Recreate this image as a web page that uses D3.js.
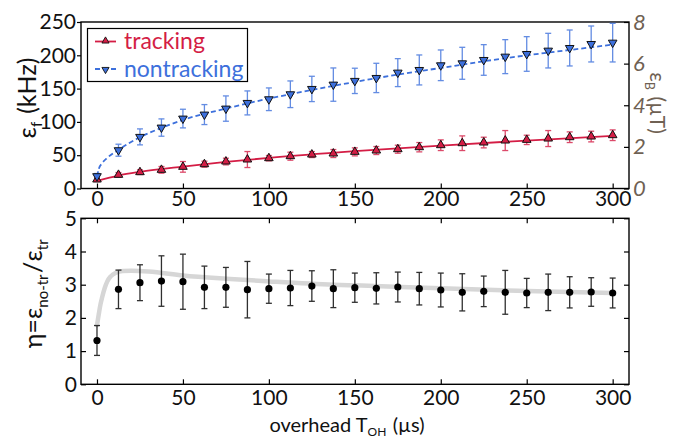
<!DOCTYPE html>
<html>
<head>
<meta charset="utf-8">
<script src="https://cdn.jsdelivr.net/npm/d3@7"></script>
<style>
  body { margin: 0; background: #fff; }
  svg { display: block; }
  text { font-family: Lato, "Open Sans", sans-serif; }
</style>
</head>
<body>
<svg id="chart" width="692" height="438"></svg>
<script>
// Overhead time T_OH (µs) of each measurement
const overheadUs = [0, 12.5, 25, 37.5, 50, 62.5, 75, 87.5, 100, 112.5, 125, 137.5, 150,
  162.5, 175, 187.5, 200, 212.5, 225, 237.5, 250, 262.5, 275, 287.5, 300];

// Frequency error ε_f (kHz), tracking
const trackingKHz = [13.5, 20.5, 24.5, 28, 32.5, 36.5, 40.5, 43.5, 45.5, 48.5, 51, 52.5, 55,
  57, 59, 62, 65, 68, 69, 72, 73, 75, 77, 78, 80];
const trackingErr = [3, 3.5, 3.5, 5, 8, 4.5, 5, 12, 4, 6, 4.5, 6, 6,
  6, 6, 7, 8, 11, 8, 15, 7, 12, 8, 8, 8];

// Frequency error ε_f (kHz), nontracking
const nontrackingKHz = [18.5, 57.5, 77.5, 91.5, 105, 111, 120, 128.5, 134, 141.5, 149.5, 156, 161.6,
  166, 174, 178, 185, 188, 193, 198, 202, 207, 211, 217, 219];
const nontrackingErr = [4, 9, 12, 13, 14, 15, 19, 18, 17, 20, 19, 25, 19,
  22, 21, 22.5, 23, 24, 23, 25.5, 26, 26, 27, 27, 29];

// Fitted curves for both modes: [T_OH, ε_f]
const trackingFit = [[0, 11.5], [12.5, 19.5], [25, 25], [50, 33], [75, 40], [100, 46],
  [150, 56], [200, 64.5], [250, 72], [300, 79]];
const nontrackingFit = [[0, 18], [1, 29], [3, 38], [6, 46], [12.5, 58], [25, 77], [37.5, 91],
  [50, 103], [75, 120], [100, 135], [125, 148], [150, 160], [175, 171], [200, 181],
  [225, 191], [250, 200], [275, 208], [300, 216]];

// Improvement ratio η = ε_no-tr / ε_tr
const ratioVal = [1.32, 2.86, 3.06, 3.11, 3.09, 2.92, 2.92, 2.85, 2.88, 2.9, 2.96, 2.88, 2.91,
  2.89, 2.93, 2.88, 2.84, 2.77, 2.8, 2.77, 2.75, 2.77, 2.77, 2.78, 2.75];
const ratioErr = [0.45, 0.58, 0.54, 0.76, 0.83, 0.64, 0.6, 0.85, 0.44, 0.53, 0.46, 0.57, 0.44,
  0.47, 0.45, 0.49, 0.51, 0.56, 0.46, 0.66, 0.44, 0.55, 0.47, 0.43, 0.45];
const ratioModel = [[0, 1.78], [1, 2.1], [2, 2.4], [3, 2.62], [4.5, 2.9], [6, 3.1], [8, 3.25],
  [11, 3.36], [15, 3.41], [20, 3.42], [30, 3.4], [50, 3.28], [75, 3.18], [100, 3.1],
  [137.5, 3.0], [150, 2.98], [200, 2.89], [250, 2.81], [300, 2.75]];

// Tick labels
const xTicks = [0, 50, 100, 150, 200, 250, 300];
const fTicks = [0, 50, 100, 150, 200, 250];
const bTicks = [0, 2, 4, 6, 8];
const etaTicks = [0, 1, 2, 3, 4, 5];

const RED = "#d41d45";
const BLUE = "#3d70dc";
const BROWN = "#6f6153";
const TICK_FONT = 21;

const svg = d3.select("#chart");
const L = 81, R = 629;
const top1 = 22, bot1 = 188.5;
const top2 = 218.3, bot2 = 384.3;

const x = d3.scaleLinear().domain([-9.3, 309.5]).range([L, R]);
const yF = d3.scaleLinear().domain([0, 250]).range([bot1, top1]);
const yB = d3.scaleLinear().domain([0, 8]).range([bot1, top1]);
const yEta = d3.scaleLinear().domain([0, 5]).range([bot2, top2]);
const intFmt = d3.format("d");

function styleAxis(g, color) {
  g.select(".domain").remove();
  g.selectAll(".tick line").attr("stroke", "#000").attr("stroke-width", 1.2);
  g.selectAll(".tick text").attr("fill", color || "#111").attr("font-size", TICK_FONT);
}

// ---------- top panel axes ----------
svg.append("g").attr("transform", `translate(${L},0)`)
  .call(d3.axisLeft(yF).tickValues(fTicks).tickFormat(intFmt).tickSize(4).tickPadding(1))
  .call(g => styleAxis(g));
svg.append("g").attr("transform", `translate(0,${bot1})`)
  .call(d3.axisBottom(x).tickValues(xTicks).tickFormat(intFmt).tickSize(-5).tickPadding(3))
  .call(g => styleAxis(g));
svg.append("g").attr("transform", `translate(${R},0)`)
  .call(d3.axisRight(yB).tickValues(bTicks).tickFormat(intFmt).tickSize(-5).tickPadding(4))
  .call(g => {
    styleAxis(g, BROWN);
    g.selectAll(".tick text").attr("font-style", "italic").attr("font-size", 22);
  });

// ---------- bottom panel axes ----------
svg.append("g").attr("transform", `translate(${L},0)`)
  .call(d3.axisLeft(yEta).tickValues(etaTicks).tickFormat(intFmt).tickSize(-5).tickPadding(4))
  .call(g => styleAxis(g));
svg.append("g").attr("transform", `translate(${R},0)`)
  .call(d3.axisRight(yEta).tickValues(etaTicks).tickSize(-5).tickFormat(""))
  .call(g => styleAxis(g));
svg.append("g").attr("transform", `translate(0,${bot2})`)
  .call(d3.axisBottom(x).tickValues(xTicks).tickFormat(intFmt).tickSize(-5).tickPadding(6))
  .call(g => styleAxis(g));
svg.append("g").attr("transform", `translate(0,${top2})`)
  .call(d3.axisTop(x).tickValues(xTicks).tickSize(-5).tickFormat(""))
  .call(g => styleAxis(g));

// frames
[[top1, bot1], [top2, bot2]].forEach(([t, b]) => {
  svg.append("rect").attr("x", L).attr("y", t).attr("width", R - L).attr("height", b - t)
    .attr("fill", "none").attr("stroke", "#000").attr("stroke-width", 1.4);
});

// ---------- top panel data ----------
const plot1 = svg.append("g");
const lineF = d3.line().x(d => x(d[0])).y(d => yF(d[1])).curve(d3.curveMonotoneX);

function errorBars(g, xs, vals, errs, yScale, color, opacity) {
  const cap = 3;
  const eb = g.append("g").attr("stroke", color).attr("stroke-width", 1.3).attr("opacity", opacity);
  xs.forEach((xv, i) => {
    const cx = x(xv), y1 = yScale(vals[i] - errs[i]), y2 = yScale(vals[i] + errs[i]);
    eb.append("line").attr("x1", cx).attr("x2", cx).attr("y1", y1).attr("y2", y2);
    eb.append("line").attr("x1", cx - cap).attr("x2", cx + cap).attr("y1", y1).attr("y2", y1);
    eb.append("line").attr("x1", cx - cap).attr("x2", cx + cap).attr("y1", y2).attr("y2", y2);
  });
}

errorBars(plot1, overheadUs, nontrackingKHz, nontrackingErr, yF, BLUE, 0.8);
errorBars(plot1, overheadUs, trackingKHz, trackingErr, yF, RED, 0.8);

plot1.append("path").datum(nontrackingFit).attr("d", lineF)
  .attr("fill", "none").attr("stroke", BLUE).attr("stroke-width", 1.8).attr("stroke-dasharray", "5,3");
plot1.append("path").datum(trackingFit).attr("d", lineF)
  .attr("fill", "none").attr("stroke", RED).attr("stroke-width", 1.8);

const tri = d3.symbol().type(d3.symbolTriangle).size(32);
plot1.selectAll(".trk").data(overheadUs).join("path")
  .attr("d", tri)
  .attr("transform", (d, i) => `translate(${x(d)},${yF(trackingKHz[i])})`)
  .attr("fill", RED).attr("stroke", "#111").attr("stroke-width", 1);
plot1.selectAll(".ntrk").data(overheadUs).join("path")
  .attr("d", tri)
  .attr("transform", (d, i) => `translate(${x(d)},${yF(nontrackingKHz[i])}) rotate(180)`)
  .attr("fill", BLUE).attr("stroke", "#111").attr("stroke-width", 1);

// legend
const lg = svg.append("g");
lg.append("rect").attr("x", 87.5).attr("y", 28.5).attr("width", 160).attr("height", 53)
  .attr("fill", "#fff").attr("stroke", "#000").attr("stroke-width", 1.2);
lg.append("line").attr("x1", 95).attr("x2", 116).attr("y1", 41.5).attr("y2", 41.5)
  .attr("stroke", RED).attr("stroke-width", 1.8);
lg.append("path").attr("d", d3.symbol().type(d3.symbolTriangle).size(22)())
  .attr("transform", "translate(105.5,41)").attr("fill", RED).attr("stroke", "#111").attr("stroke-width", 0.9);
lg.append("text").attr("x", 124).attr("y", 49).attr("fill", RED).attr("font-size", 23).text("tracking");
lg.append("line").attr("x1", 95).attr("x2", 116).attr("y1", 69).attr("y2", 69)
  .attr("stroke", BLUE).attr("stroke-width", 1.8).attr("stroke-dasharray", "5,3");
lg.append("path").attr("d", d3.symbol().type(d3.symbolTriangle).size(22)())
  .attr("transform", "translate(105.5,69.5) rotate(180)").attr("fill", BLUE).attr("stroke", "#111").attr("stroke-width", 0.9);
lg.append("text").attr("x", 124).attr("y", 76.5).attr("fill", BLUE).attr("font-size", 23).text("nontracking");

// ---------- bottom panel data ----------
const plot2 = svg.append("g");
const lineEta = d3.line().x(d => x(d[0])).y(d => yEta(d[1])).curve(d3.curveMonotoneX);
plot2.append("path").datum(ratioModel).attr("d", lineEta)
  .attr("fill", "none").attr("stroke", "#d6d6d6").attr("stroke-width", 4.5)
  .attr("stroke-linecap", "round");
errorBars(plot2, overheadUs, ratioVal, ratioErr, yEta, "#1a1a1a", 0.9);
plot2.selectAll("circle").data(overheadUs).join("circle")
  .attr("cx", d => x(d)).attr("cy", (d, i) => yEta(ratioVal[i])).attr("r", 3.6)
  .attr("fill", "#000");

// ---------- axis titles ----------
function label(g, parts, size) {
  const t = g.append("text").attr("font-size", size).attr("text-anchor", "middle").attr("fill", "currentColor");
  parts.forEach(p => {
    if (p.sub) {
      t.append("tspan").attr("font-size", size * 0.6).attr("dy", size * 0.22).text(p.sub);
      t.append("tspan").attr("dy", -size * 0.22).text("\u200a");
    } else {
      t.append("tspan").text(p.t);
    }
  });
  return t;
}

const yl1 = svg.append("g").attr("transform", "translate(36,98) rotate(-90)").style("color", "#111");
label(yl1, [{t: "ε"}, {sub: "f"}, {t: " (kHz)"}], 25);

const yl2 = svg.append("g").attr("transform", "translate(42,293) rotate(-90)").style("color", "#111");
label(yl2, [{t: "η=ε"}, {sub: "no-tr"}, {t: "/ε"}, {sub: "tr"}], 25);

const yl3 = svg.append("g").attr("transform", "translate(650,103) rotate(90)").style("color", BROWN);
label(yl3, [{t: "ε"}, {sub: "B"}, {t: " (µT)"}], 21);

const xl = svg.append("g").attr("transform", "translate(347,432)").style("color", "#111");
label(xl, [{t: "overhead T"}, {sub: "OH"}, {t: " (µs)"}], 20);
</script>
</body>
</html>
